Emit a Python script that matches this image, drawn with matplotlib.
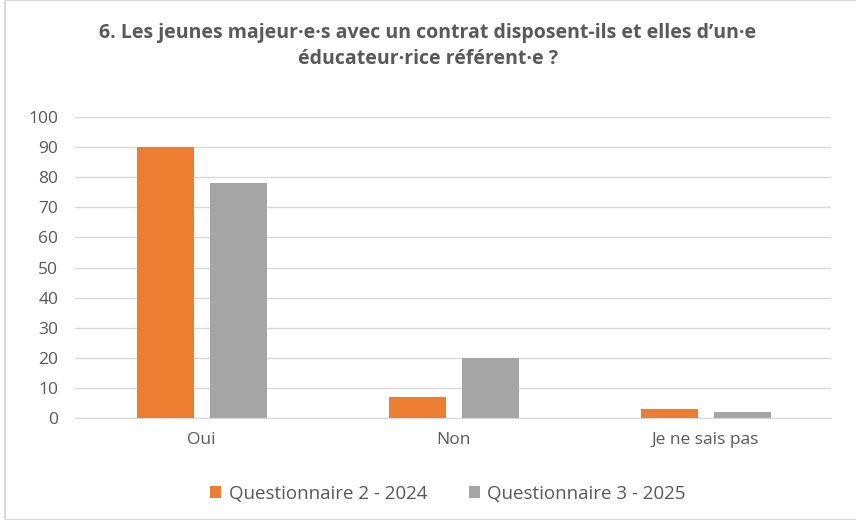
import matplotlib
matplotlib.use("Agg")
import matplotlib.pyplot as plt
import numpy as np
from matplotlib.patches import Rectangle

categories = ["Oui", "Non", "Je ne sais pas"]
series_names = ["Questionnaire 2 - 2024", "Questionnaire 3 - 2025"]
q2_2024 = [90, 7, 3]
q3_2025 = [78, 20, 2]
yticks = [0, 10, 20, 30, 40, 50, 60, 70, 80, 90, 100]

plt.rcParams['font.family'] = ['Open Sans', 'DejaVu Sans']
txt = "#595959"

fig = plt.figure(figsize=(8.56, 5.2), dpi=100)
ax = fig.add_axes([75/856, 1-418/520, 756/856, 301/520])

x = np.arange(len(categories))
w = 0.226
ax.bar(x - 0.141, q2_2024, w, color="#ED7D31", label=series_names[0], zorder=3)
ax.bar(x + 0.147, q3_2025, w, color="#A5A5A5", label=series_names[1], zorder=3)

ax.set_xlim(-0.5, 2.5)
ax.set_ylim(0, 100)
ax.set_yticks(yticks)
ax.set_xticks(x)
ax.set_xticklabels(categories)
ax.grid(axis="y", color="#D9D9D9", linewidth=1, zorder=0)
for s in ["top", "right", "left"]:
    ax.spines[s].set_visible(False)
ax.spines["bottom"].set_color("#D9D9D9")
ax.tick_params(axis="both", length=0, colors=txt, labelsize=12.5)
ax.tick_params(axis="y", pad=12)
ax.tick_params(axis="x", pad=10)

fig.text(0.5, 1-46/520, "6. Les jeunes majeur·e·s avec un contrat disposent-ils et elles d’un·e\néducateur·rice référent·e ?",
         ha="center", va="center", fontsize=14, fontweight="bold", color=txt, linespacing=1.45)

leg = fig.legend(loc="center", bbox_to_anchor=(448/856, 1-494/520), ncol=2, frameon=False,
                 fontsize=13.5, handlelength=0.6, handleheight=0.6, columnspacing=2.2, handletextpad=0.4)
for t in leg.get_texts():
    t.set_color(txt)

fig.patches.append(Rectangle((5/856, 0), 1, 1, transform=fig.transFigure, fill=False,
                             edgecolor="#D9D9D9", linewidth=1.5))
fig.savefig("out.png", dpi=100)
